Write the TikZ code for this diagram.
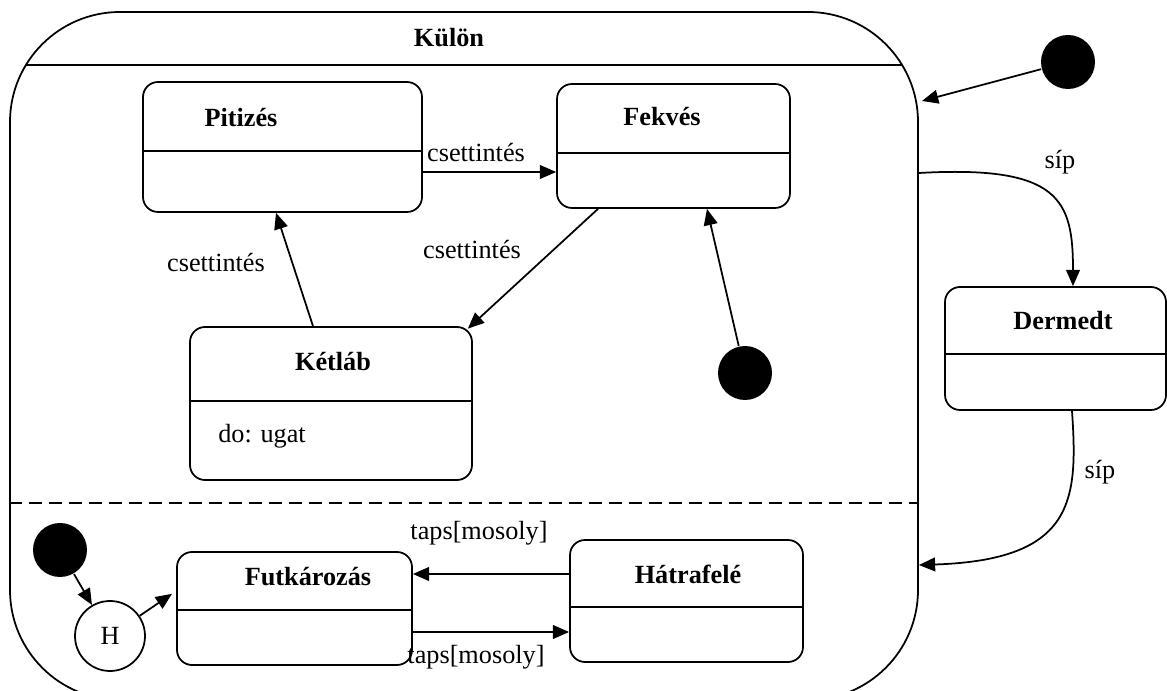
\documentclass[tikz,border=0pt]{standalone}
\usepackage{fontspec}
\setmainfont{Liberation Serif}
\usetikzlibrary{arrows.meta,fit}

\begin{document}
\begin{tikzpicture}[x=0.4pt, y=-0.4pt, line width=0.7pt,
  state/.style = {draw, rounded corners=6pt, inner sep=0pt},
  title/.style = {font=\fontsize{10.5}{12}\selectfont\bfseries},
  lab/.style = {font=\fontsize{10.5}{12}\selectfont},
  start/.style = {circle, fill, minimum size=21.6pt, inner sep=0pt},
  >={Triangle[length=6.5pt, width=5.5pt]}]
 \useasboundingbox (0,0) rectangle (1167,691);
 % composite state
 \node[state, rounded corners=44pt, fit={(10,12) (918,700)}] (kulon) {};
 \node[title] (kulonT) at (449,38) {Külön};
 \draw (26,65) -- (902,65);
 \draw[dash pattern=on 5pt off 3pt] (kulon.west |- 0,503) -- (kulon.east |- 0,503);
 % states
 \node[state, fit={(143,82) (422,212)}] (pit) {};
 \node[state, fit={(557,84) (790,208)}] (fek) {};
 \node[state, fit={(190,327) (472,480)}] (ket) {};
 \node[state, fit={(945,287) (1166,410)}] (der) {};
 \node[state, fit={(177,552) (412,665)}] (fut) {};
 \node[state, fit={(570,540) (803,662)}] (hat) {};
 \foreach \n/\y in {pit/151, fek/153, ket/401, der/354, fut/610, hat/607}
  \draw (\n.west |- 0,\y) -- (\n.east |- 0,\y);
 \node[title] (pitT) at (241,118) {Pitizés};
 \node[title] (fekT) at (662,117) {Fekvés};
 \node[title] (ketT) at (333,362) {Kétláb};
 \node[lab] (ketD) at (262,436) {do: ugat};
 \node[title] (derT) at (1063,321) {Dermedt};
 \node[title] (futT) at (308,577) {Futkározás};
 \node[title] (hatT) at (688,574) {Hátrafelé};
 % pseudo states
 \node[start] (ini1) at (1068,62) {};
 \node[start] (ini2) at (745,373) {};
 \node[start] (ini3) at (60,550) {};
 \node[draw, circle, minimum size=28pt, inner sep=0pt, lab] (h) at (110,636) {H};
 \coordinate (kin) at (922,101);
 % transitions
 \draw[->] (ini1) -- (kin);
 \draw[->] (pit.east |- 0,172) -- (fek.west |- 0,172);
 \draw[->] (fek.south -| 598,0) -- ([xshift=-2pt,yshift=-1pt]ket.north east);
 \draw[->] (ket.north -| 313,0) -- (pit.south -| 276,0);
 \draw[->] (ini2) -- (fek.south -| 707,0);
 \draw[->] (kulon.east |- 0,173) .. controls (1060,165) and (1073,200) .. (der.north -| 1073,0);
 \draw[->] (der.south -| 1072,0) .. controls (1078,500) and (1075,560) .. (kulon.east |- 0,565);
 \draw[->] (hat.west |- 0,574) -- (fut.east |- 0,574);
 \draw[->] (fut.east |- 0,632) -- (hat.west |- 0,632);
 \draw[->] (ini3) -- (h);
 \draw[->, shorten >=2pt] (h) -- (fut.west |- 0,591);
 % labels
 \node[lab] (l1) at (476,153) {csettintés};
 \node[lab] (l2) at (472,250) {csettintés};
 \node[lab] (l3) at (216,263) {csettintés};
 \node[lab] (l4) at (1060,162) {síp};
 \node[lab] (l5) at (1100,472) {síp};
 \node[lab] (l6) at (479,533) {taps[mosoly]};
 \node[lab] (l7) at (476,657) {taps[mosoly]};
\end{tikzpicture}
\end{document}
